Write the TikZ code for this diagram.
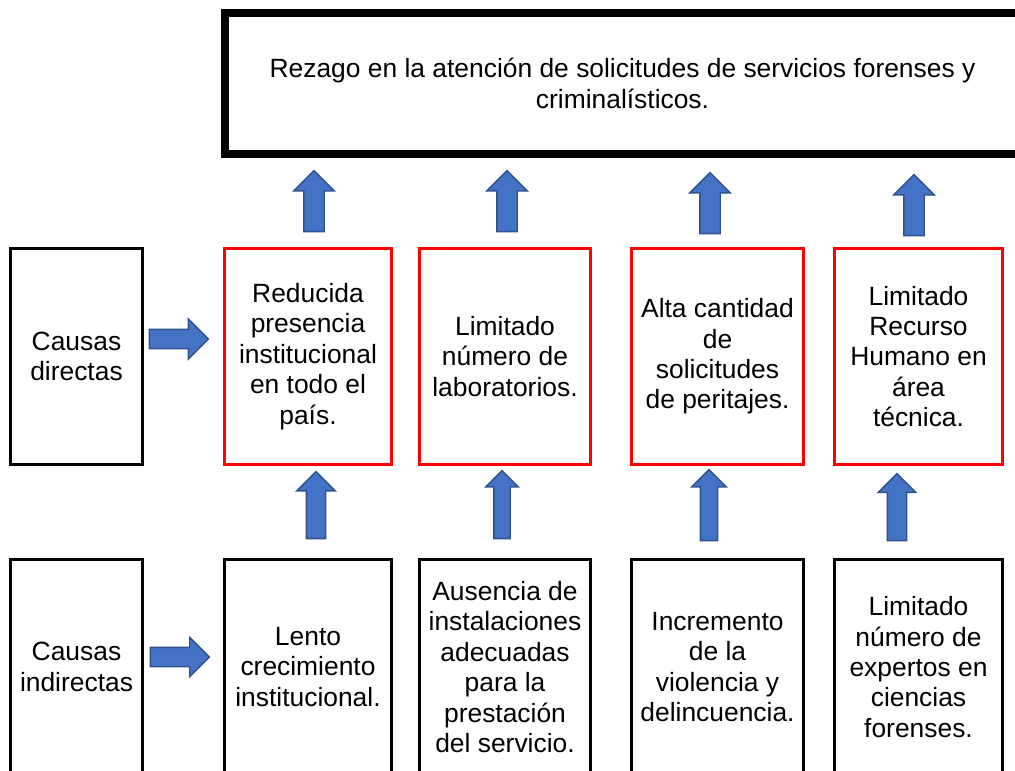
\documentclass[tikz,border=0pt]{standalone}
\usepackage{fontspec}
\setmainfont{Liberation Sans}
\usetikzlibrary{shapes.arrows}
\definecolor{arrfill}{HTML}{4472C4}
\definecolor{arrdraw}{HTML}{2F528F}
\definecolor{redb}{HTML}{FF0000}
\begin{document}
\begin{tikzpicture}[x=1pt,y=-1pt,
  txt/.style={font=\fontsize{26.4}{30.4}\selectfont, align=center},
  box/.style={draw=black, line width=3pt, rectangle, inner sep=0pt, txt},
  redbox/.style={box, draw=redb},
  topbox/.style={box, line width=8pt},
  barrow/.style={single arrow, draw=arrdraw, fill=arrfill, line width=1.4pt,
    inner xsep=0pt, single arrow head indent=0pt, anchor=tail}]
\clip (0,0) rectangle (1015,771);
\fill[white] (0,0) rectangle (1015,771);

% effect
\node[topbox, minimum width=795pt, minimum height=140.5pt] (top) at (622.5,83.25)
  {Rezago en la atención de solicitudes de servicios forenses y\\criminalísticos.};

% direct causes
\node[box, minimum width=132pt, minimum height=216pt] (cd) at (76.5,356.5) {Causas\\directas};
\node[redbox, minimum width=167pt, minimum height=216pt] (r1) at (308,356.5)
  {Reducida\\presencia\\institucional\\en todo el\\país.};
\node[redbox, minimum width=171pt, minimum height=216pt] (r2) at (505,356.5)
  {Limitado\\número de\\laboratorios.};
\node[redbox, minimum width=172pt, minimum height=216pt] (r3) at (717.5,356.5)
  {Alta cantidad\\de\\solicitudes\\de peritajes.};
\node[redbox, minimum width=168pt, minimum height=216pt] (r4) at (918.5,356.5)
  {Limitado\\Recurso\\Humano en\\área\\técnica.};

% indirect causes
\node[box, minimum width=132pt, minimum height=215pt] (ci) at (76.5,667) {Causas\\indirectas};
\node[box, minimum width=167pt, minimum height=215pt] (b1) at (308,667)
  {Lento\\crecimiento\\institucional.};
\node[box, minimum width=171pt, minimum height=215pt] (b2) at (505,667)
  {Ausencia de\\instalaciones\\adecuadas\\para la\\prestación\\del servicio.};
\node[box, minimum width=172pt, minimum height=215pt] (b3) at (717.5,667)
  {Incremento\\de la\\violencia y\\delincuencia.};
\node[box, minimum width=168pt, minimum height=215pt] (b4) at (918.5,667)
  {Limitado\\número de\\expertos en\\ciencias\\forenses.};

% block arrows: direct causes -> effect
\node[barrow, rotate=90, minimum height=61pt, inner ysep=9.5pt, single arrow head extend=10pt] (ua1) at (314,232.3) {};
\node[barrow, rotate=90, minimum height=61pt, inner ysep=9.5pt, single arrow head extend=10pt] (ua2) at (507,232.3) {};
\node[barrow, rotate=90, minimum height=61pt, inner ysep=9.5pt, single arrow head extend=10pt] (ua3) at (710,234.3) {};
\node[barrow, rotate=90, minimum height=61pt, inner ysep=9.5pt, single arrow head extend=10pt] (ua4) at (914,236.3) {};

% block arrows: indirect -> direct
\node[barrow, rotate=90, minimum height=67pt, inner ysep=9pt, single arrow head extend=9.5pt] (la1) at (316,539.3) {};
\node[barrow, rotate=90, minimum height=68pt, inner ysep=7.5pt, single arrow head extend=8pt] (la2) at (502,539.3) {};
\node[barrow, rotate=90, minimum height=71pt, inner ysep=8pt, single arrow head extend=8.5pt] (la3) at (709,541.3) {};
\node[barrow, rotate=90, minimum height=67pt, inner ysep=9pt, single arrow head extend=9pt] (la4) at (897,541.3) {};

% block arrows: labels -> boxes
\node[barrow, minimum height=59pt, inner ysep=9pt, single arrow head extend=10.5pt] (ra1) at (148.7,339) {};
\node[barrow, minimum height=59pt, inner ysep=9pt, single arrow head extend=10pt] (ra2) at (149.7,657) {};
\end{tikzpicture}
\end{document}
